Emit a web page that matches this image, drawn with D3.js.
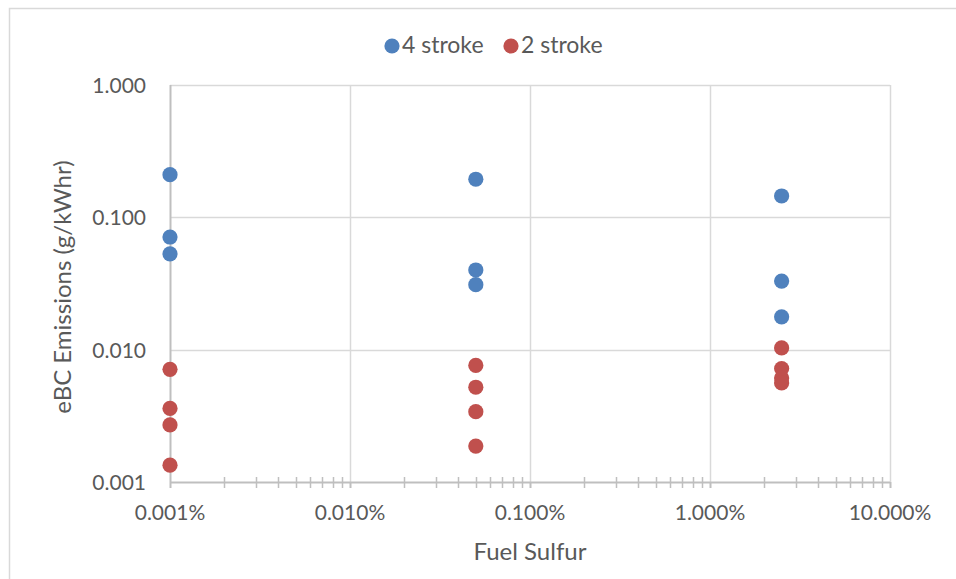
<!DOCTYPE html>
<html>
<head>
<meta charset="utf-8">
<script src="https://cdn.jsdelivr.net/npm/d3@7"></script>
<style>
  body { margin: 0; background: #fff; }
  svg text { font-family: Lato, "Open Sans", sans-serif; fill: #595959; }
</style>
</head>
<body>
<svg id="chart" width="956" height="579"></svg>
<script>
// fuel sulfur (%) for each column of points
var sulfur = [0.001, 0.05, 2.5];
// eBC emissions (g/kWhr), one list per sulfur level
var fourStroke = [
  [0.21, 0.071, 0.053],
  [0.194, 0.040, 0.031],
  [0.145, 0.033, 0.0177]
];
var twoStroke = [
  [0.0071, 0.0036, 0.0027, 0.00134],
  [0.0076, 0.0052, 0.0034, 0.00187],
  [0.0103, 0.0072, 0.0061, 0.0056]
];
var seriesNames = ['4 stroke', '2 stroke'];
var seriesColors = ['#4F81BD', '#C0504D'];
var xTicks = [0.001, 0.01, 0.1, 1, 10];
var yTicks = [0.001, 0.01, 0.1, 1];

var svg = d3.select('#chart');

// outer chart border
svg.append('rect')
  .attr('x', 9.5).attr('y', 8.5)
  .attr('width', 960).attr('height', 600)
  .attr('fill', 'none').attr('stroke', '#D9D9D9').attr('stroke-width', 1.5);

var x = d3.scaleLog().domain([0.001, 10]).range([170, 890]);
var y = d3.scaleLog().domain([0.001, 1]).range([482, 85]);

// gridlines
svg.append('g').selectAll('line.h').data(yTicks.slice(1)).enter().append('line')
  .attr('x1', x(0.001)).attr('x2', x(10))
  .attr('y1', function(d) { return Math.round(y(d)) + 0.5; })
  .attr('y2', function(d) { return Math.round(y(d)) + 0.5; })
  .attr('stroke', '#D9D9D9').attr('stroke-width', 1.5);

svg.append('g').selectAll('line.v').data(xTicks.slice(1)).enter().append('line')
  .attr('x1', function(d) { return Math.round(x(d)) + 0.5; })
  .attr('x2', function(d) { return Math.round(x(d)) + 0.5; })
  .attr('y1', y(1)).attr('y2', y(0.001))
  .attr('stroke', '#D9D9D9').attr('stroke-width', 1.5);

// x axis with minor ticks crossing the line
var minor = [];
for (var e = -3; e < 1; e++) {
  for (var m = 2; m <= 9; m++) minor.push(m * Math.pow(10, e));
}
var xAxisG = svg.append('g');
xAxisG.append('line')
  .attr('x1', x(0.001)).attr('x2', x(10))
  .attr('y1', y(0.001) + 0.5).attr('y2', y(0.001) + 0.5)
  .attr('stroke', '#BFBFBF').attr('stroke-width', 2);
xAxisG.selectAll('line.minor').data(minor).enter().append('line')
  .attr('x1', function(d) { return Math.round(x(d)) + 0.5; })
  .attr('x2', function(d) { return Math.round(x(d)) + 0.5; })
  .attr('y1', y(0.001) - 5).attr('y2', y(0.001) + 6)
  .attr('stroke', '#BFBFBF').attr('stroke-width', 1.5);
xAxisG.selectAll('line.major').data(xTicks).enter().append('line')
  .attr('x1', function(d) { return Math.round(x(d)) + 0.5; })
  .attr('x2', function(d) { return Math.round(x(d)) + 0.5; })
  .attr('y1', y(0.001)).attr('y2', y(0.001) + 6)
  .attr('stroke', '#BFBFBF').attr('stroke-width', 2);
xAxisG.selectAll('text').data(xTicks).enter().append('text')
  .attr('x', function(d) { return x(d); })
  .attr('y', 520)
  .attr('text-anchor', 'middle')
  .style('font-size', '21px')
  .text(function(d) { return d3.format('.3f')(d) + '%'; });

// y axis line at the left
svg.append('line')
  .attr('x1', x(0.001) + 0.5).attr('x2', x(0.001) + 0.5)
  .attr('y1', y(1)).attr('y2', y(0.001))
  .attr('stroke', '#BFBFBF').attr('stroke-width', 2);
svg.append('g').selectAll('text').data(yTicks).enter().append('text')
  .attr('x', 146)
  .attr('y', function(d) { return y(d) + 8; })
  .attr('text-anchor', 'end')
  .style('font-size', '21px')
  .text(function(d) { return d3.format('.3f')(d); });

// axis titles
svg.append('text')
  .attr('transform', 'translate(71,287) rotate(-90)')
  .attr('text-anchor', 'middle')
  .style('font-size', '24px')
  .text('eBC Emissions (g/kWhr)');
svg.append('text')
  .attr('x', 530).attr('y', 560)
  .attr('text-anchor', 'middle')
  .style('font-size', '24px')
  .text('Fuel Sulfur');

// points
function flatten(series) {
  var pts = [];
  series.forEach(function(vals, i) {
    vals.forEach(function(v) { pts.push({s: sulfur[i], v: v}); });
  });
  return pts;
}
[fourStroke, twoStroke].forEach(function(series, k) {
  svg.append('g').selectAll('circle').data(flatten(series)).enter().append('circle')
    .attr('cx', function(d) { return x(d.s); })
    .attr('cy', function(d) { return y(d.v); })
    .attr('r', 7.6)
    .attr('fill', seriesColors[k]);
});

// legend
var legendX = [392, 511];
var legend = svg.append('g').selectAll('g').data(seriesNames).enter().append('g')
  .attr('transform', function(d, i) { return 'translate(' + legendX[i] + ',46)'; });
legend.append('circle').attr('r', 7.6).attr('fill', function(d, i) { return seriesColors[i]; });
legend.append('text').attr('x', 10).attr('y', 7).style('font-size', '23px').text(function(d) { return d; });
</script>
</body>
</html>
